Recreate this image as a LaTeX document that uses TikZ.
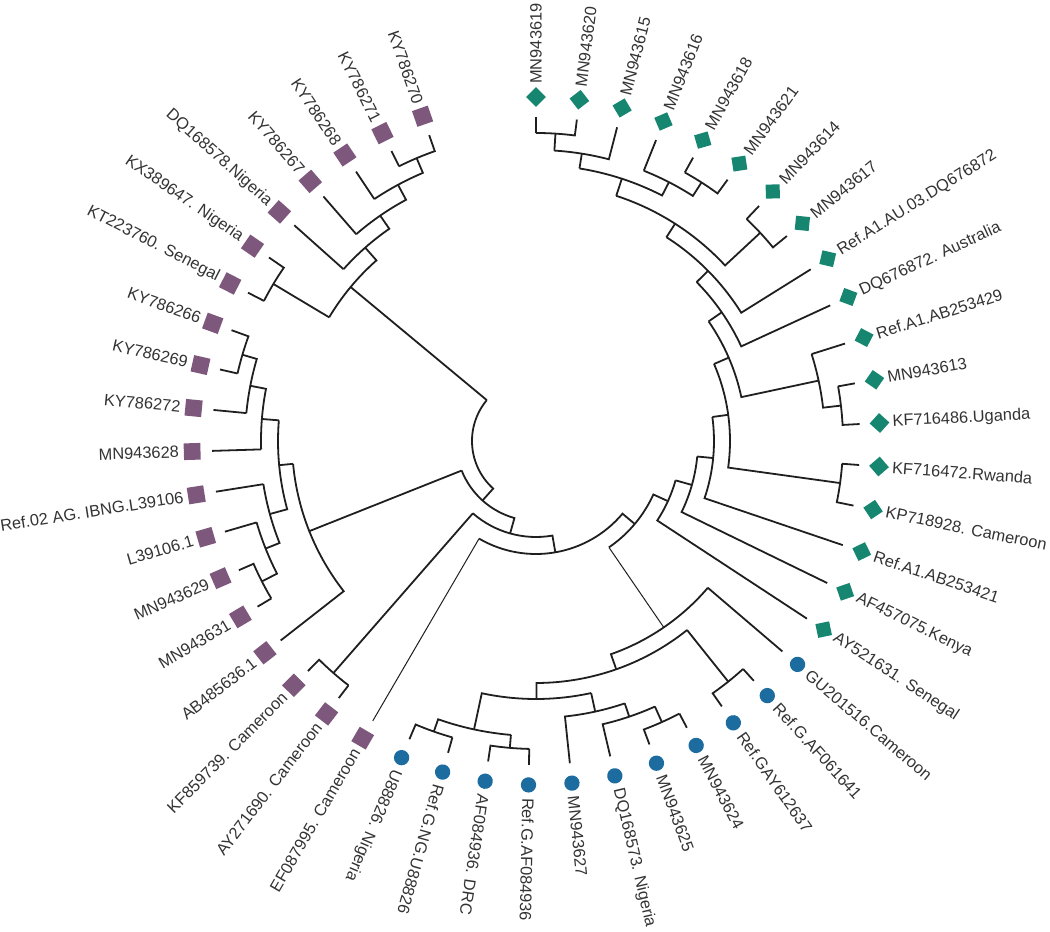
\documentclass[tikz,border=0pt]{standalone}
\usepackage{fontspec}
\setmainfont{Liberation Sans}
\usepackage{tikz}
\usetikzlibrary{calc}
\definecolor{cladeA}{RGB}{22,134,112}
\definecolor{cladeG}{RGB}{28,108,160}
\definecolor{cladeAG}{RGB}{126,88,124}
\def\tiprad{324}
\def\markrad{344}
\def\labelrad{357}
\tikzset{
	branch/.style={
		draw=black!88,
		line width=1.35pt,
		line join=miter
	},
	thin branch/.style={
		line width=0.75pt
	},
	amark/.style={
		shape=rectangle,
		fill=cladeA,
		minimum size=10.5pt,
		inner sep=0pt,
		rotate=45
	},
	gmark/.style={
		shape=circle,
		fill=cladeG,
		minimum size=11.5pt,
		inner sep=0pt
	},
	agmark/.style={
		shape=rectangle,
		fill=cladeAG,
		minimum size=12.5pt,
		inner sep=0pt
	},
	taxon/.style={
		font=\fontsize{12.3}{14}\selectfont,
		text=black!80,
		inner sep=0pt
	}
}
\newcommand{\clade}[5][]{%
	\edef\angA{\csname ang#4\endcsname}\edef\angB{\csname ang#5\endcsname}%
	\edef\radA{\csname rad#4\endcsname}\edef\radB{\csname rad#5\endcsname}%
	\pgfmathsetmacro\angM{(\angA+\angB)/2}%
	\expandafter\xdef\csname ang#2\endcsname{\angM}%
	\expandafter\xdef\csname rad#2\endcsname{#3}%
	\draw[branch,#1] (\angA:\radA) -- (\angA:#3);
	\draw[branch] (\angA:#3) arc[start angle=\angA, end angle=\angB, radius=#3] -- (\angB:\radB);
	\coordinate (#2) at (\angM:#3);
}

\begin{document}
\begin{tikzpicture}[x=0.75pt, y=0.75pt]
	\useasboundingbox (-536,-491) rectangle (514,441);
	
	\foreach \i/\txt/\kind in {0/MN943619/amark, 1/MN943620/amark, 2/MN943615/amark,
		3/MN943616/amark, 4/MN943618/amark, 5/MN943621/amark, 6/MN943614/amark,
		7/MN943617/amark, 8/Ref.A1.AU.03.DQ676872/amark, 9/DQ676872. Australia/amark,
		10/Ref.A1.AB253429/amark, 11/MN943613/amark, 12/KF716486.Uganda/amark,
		13/KF716472.Rwanda/amark, 14/KP718928. Cameroon/amark, 15/Ref.A1.AB253421/amark,
		16/AF457075.Kenya/amark, 17/AY521631. Senegal/amark, 18/GU201516.Cameroon/gmark,
		19/Ref.G.AF061641/gmark, 20/Ref.GAY612637/gmark, 21/MN943624/gmark,
		22/MN943625/gmark, 23/DQ168573. Nigeria/gmark, 24/MN943627/gmark,
		25/Ref.G.AF084936/gmark, 26/AF084936. DRC/gmark, 27/Ref.G.NG.U88826/gmark,
		28/U88826. Nigeria/gmark, 29/EF087995. Cameroon/agmark,
		30/AY271690. Cameroon/agmark, 31/KF859739. Cameroon/agmark,
		32/AB485636.1/agmark, 33/MN943631/agmark, 34/MN943629/agmark,
		35/L39106.1/agmark, 36/Ref.02 AG. IBNG.L39106/agmark, 37/MN943628/agmark,
		38/KY786272/agmark, 39/KY786269/agmark, 40/KY786266/agmark,
		41/KT223760. Senegal/agmark, 42/KX389647. Nigeria/agmark,
		43/DQ168578.Nigeria/agmark, 44/KY786267/agmark, 45/KY786268/agmark,
		46/KY786271/agmark, 47/KY786270/agmark}
	{
		\pgfmathsetmacro\tipang{90-7.25*\i}
		\expandafter\xdef\csname angL\i\endcsname{\tipang}
		\expandafter\xdef\csname radL\i\endcsname{\tiprad}
		\node[\kind, rotate=\tipang] (m\i) at (\tipang:\markrad) {};
		\ifnum\i<29
		\node[taxon, rotate=\tipang, anchor=west] (t\i) at (\tipang:\labelrad) {\txt};
		\else
		\node[taxon, rotate=\tipang+180, anchor=east] (t\i) at (\tipang:\labelrad) {\txt};
		\fi
	}
	
	% A1
	\clade{G0}{308}{L0}{L1}
	\clade{G1}{291}{G0}{L2}
	\clade{G2}{307}{L4}{L5}
	\clade{G3}{291}{L3}{G2}
	\clade{G4}{276}{G1}{G3}
	\clade{G5}{306}{L6}{L7}
	\clade{G6}{258}{G4}{G5}
	\clade{G7}{242}{G6}{L8}
	\clade{G8}{226}{G7}{L9}
	\clade{G9}{307}{L11}{L12}
	\clade{G10}{289}{L10}{G9}
	\clade{G11}{210}{G8}{G10}
	\clade{G12}{307}{L13}{L14}
	\clade{G13}{194}{G11}{G12}
	\clade{G14}{178}{G13}{L15}
	\clade{G15}{162}{G14}{L16}
	\clade{G16}{145}{G15}{L17}
	
	% G
	\clade{B0}{308}{L19}{L20}
	\clade{B1}{308}{L21}{L22}
	\clade{B2}{291}{B1}{L23}
	\clade{B3}{277}{B2}{L24}
	\clade{B4}{308}{L25}{L26}
	\clade{B5}{308}{L27}{L28}
	\clade{B6}{295}{B4}{B5}
	\clade{B7}{258}{B3}{B6}
	\clade{B8}{242}{B0}{B7}
	\clade{B9}{226}{L18}{B8}
	
	% AG
	\clade{P0}{308}{L30}{L31}
	\clade{P1}{306}{L39}{L40}
	\clade{P2}{291}{L38}{P1}
	\clade{P3}{275}{L37}{P2}
	\clade{P4}{308}{L33}{L34}
	\clade{P5}{291}{L35}{P4}
	\clade{P6}{276}{L36}{P5}
	\clade{P7}{258}{P3}{P6}
	\clade{P8}{244}{P7}{L32}
	\clade{P9}{306}{L41}{L42}
	\clade{P10}{307}{L46}{L47}
	\clade{P11}{291}{L45}{P10}
	\clade{P12}{274}{L44}{P11}
	\clade{P13}{258}{L43}{P12}
	\clade{P14}{241}{P9}{P13}
	
	\clade[thin branch]{N0}{129}{B9}{G16}
	\clade[thin branch]{N1}{113}{L29}{N0}
	\clade{N2}{96}{P0}{N1}
	\clade{N3}{80}{P8}{N2}
	\clade{N4}{64}{P14}{N3}
\end{tikzpicture}
\end{document}
